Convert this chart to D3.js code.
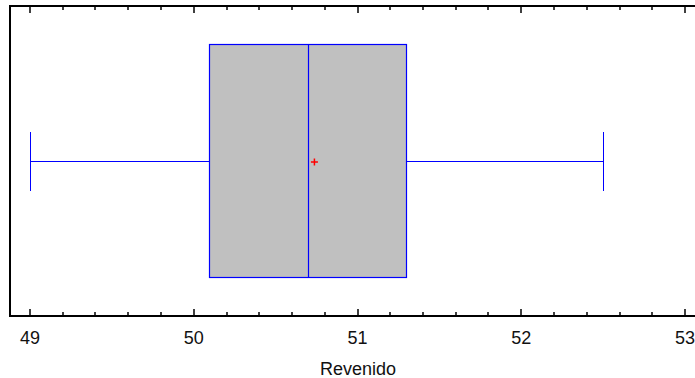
<!DOCTYPE html>
<html>
<head>
<meta charset="utf-8">
<script src="https://cdn.jsdelivr.net/npm/d3@7"></script>
<style>
  body { margin: 0; background: #fff; }
  text { font-family: "Liberation Sans", Arial, sans-serif; fill: #111; }
</style>
</head>
<body>
<div id="chart"></div>
<script>
// Box plot summary for "Revenido"
var axisTicks = [49, 50, 51, 52, 53];
var boxStats = { min: 49.0, q1: 50.1, median: 50.7, mean: 50.74, q3: 51.3, max: 52.5 };
var axisTitle = "Revenido";

var width = 695, height = 378;
var plot = { left: 10, top: 6, bottom: 316, right: 700 };

var svg = d3.select("#chart").append("svg")
  .attr("width", width)
  .attr("height", height);

var x = d3.scaleLinear()
  .domain([49, 53])
  .range([30, 685]);

// frame (no right side)
svg.append("path")
  .attr("d", "M" + plot.right + "," + plot.top + "H" + plot.left + "V" + plot.bottom + "H" + plot.right)
  .attr("fill", "none")
  .attr("stroke", "#000")
  .attr("stroke-width", 2);

// ticks (major + minor), pointing inward on bottom and top
var minor = d3.range(49, 53.001, 0.2).filter(function(d){
  return Math.abs(d - Math.round(d)) > 0.01;
});

function drawTicks(y0, dir){
  svg.selectAll(null).data(axisTicks).enter().append("line")
    .attr("x1", function(d){ return Math.round(x(d)); })
    .attr("x2", function(d){ return Math.round(x(d)); })
    .attr("y1", y0).attr("y2", y0 + dir * 7)
    .attr("stroke", "#000").attr("stroke-width", 1.5);
  svg.selectAll(null).data(minor).enter().append("line")
    .attr("x1", function(d){ return Math.round(x(d)); })
    .attr("x2", function(d){ return Math.round(x(d)); })
    .attr("y1", y0).attr("y2", y0 + dir * 4)
    .attr("stroke", "#000").attr("stroke-width", 1.5);
}
drawTicks(plot.bottom, -1);
drawTicks(plot.top, 1);

svg.selectAll(".tickLabel").data(axisTicks).enter().append("text")
  .attr("class", "tickLabel")
  .attr("x", function(d){ return x(d); })
  .attr("y", 344)
  .attr("text-anchor", "middle")
  .style("font-size", "18px")
  .text(function(d){ return d; });

svg.append("text")
  .attr("x", 358)
  .attr("y", 375)
  .attr("text-anchor", "middle")
  .style("font-size", "18px")
  .text(axisTitle);

// box plot
var yc = 161, capHalf = 29;
var boxTop = 44, boxBot = 277;
var blue = "#0000ff";

// whiskers
svg.append("line")
  .attr("x1", x(boxStats.min)).attr("x2", x(boxStats.q1))
  .attr("y1", yc + 0.5).attr("y2", yc + 0.5)
  .attr("stroke", blue);
svg.append("line")
  .attr("x1", x(boxStats.q3)).attr("x2", x(boxStats.max))
  .attr("y1", yc + 0.5).attr("y2", yc + 0.5)
  .attr("stroke", blue);
[boxStats.min, boxStats.max].forEach(function(v){
  svg.append("line")
    .attr("x1", Math.round(x(v)) + 0.5).attr("x2", Math.round(x(v)) + 0.5)
    .attr("y1", yc - capHalf).attr("y2", yc + capHalf + 1)
    .attr("stroke", blue);
});

// box
svg.append("rect")
  .attr("x", Math.round(x(boxStats.q1)) - 0.5)
  .attr("y", boxTop + 0.5)
  .attr("width", Math.round(x(boxStats.q3)) - Math.round(x(boxStats.q1)))
  .attr("height", boxBot - boxTop)
  .attr("fill", "#c0c0c0")
  .attr("stroke", blue)
  .attr("stroke-width", 1.2);

// median
svg.append("line")
  .attr("x1", Math.round(x(boxStats.median)) + 0.5).attr("x2", Math.round(x(boxStats.median)) + 0.5)
  .attr("y1", boxTop).attr("y2", boxBot + 1)
  .attr("stroke", blue)
  .attr("stroke-width", 1.2);

// mean marker
var mx = x(boxStats.mean) - 0.5, my = yc + 1;
svg.append("path")
  .attr("d", "M" + (mx - 3.5) + "," + my + "H" + (mx + 3.5) + "M" + mx + "," + (my - 3.5) + "V" + (my + 3.5))
  .attr("stroke", "#ff0000")
  .attr("stroke-width", 1.5)
  .attr("fill", "none");
</script>
</body>
</html>
